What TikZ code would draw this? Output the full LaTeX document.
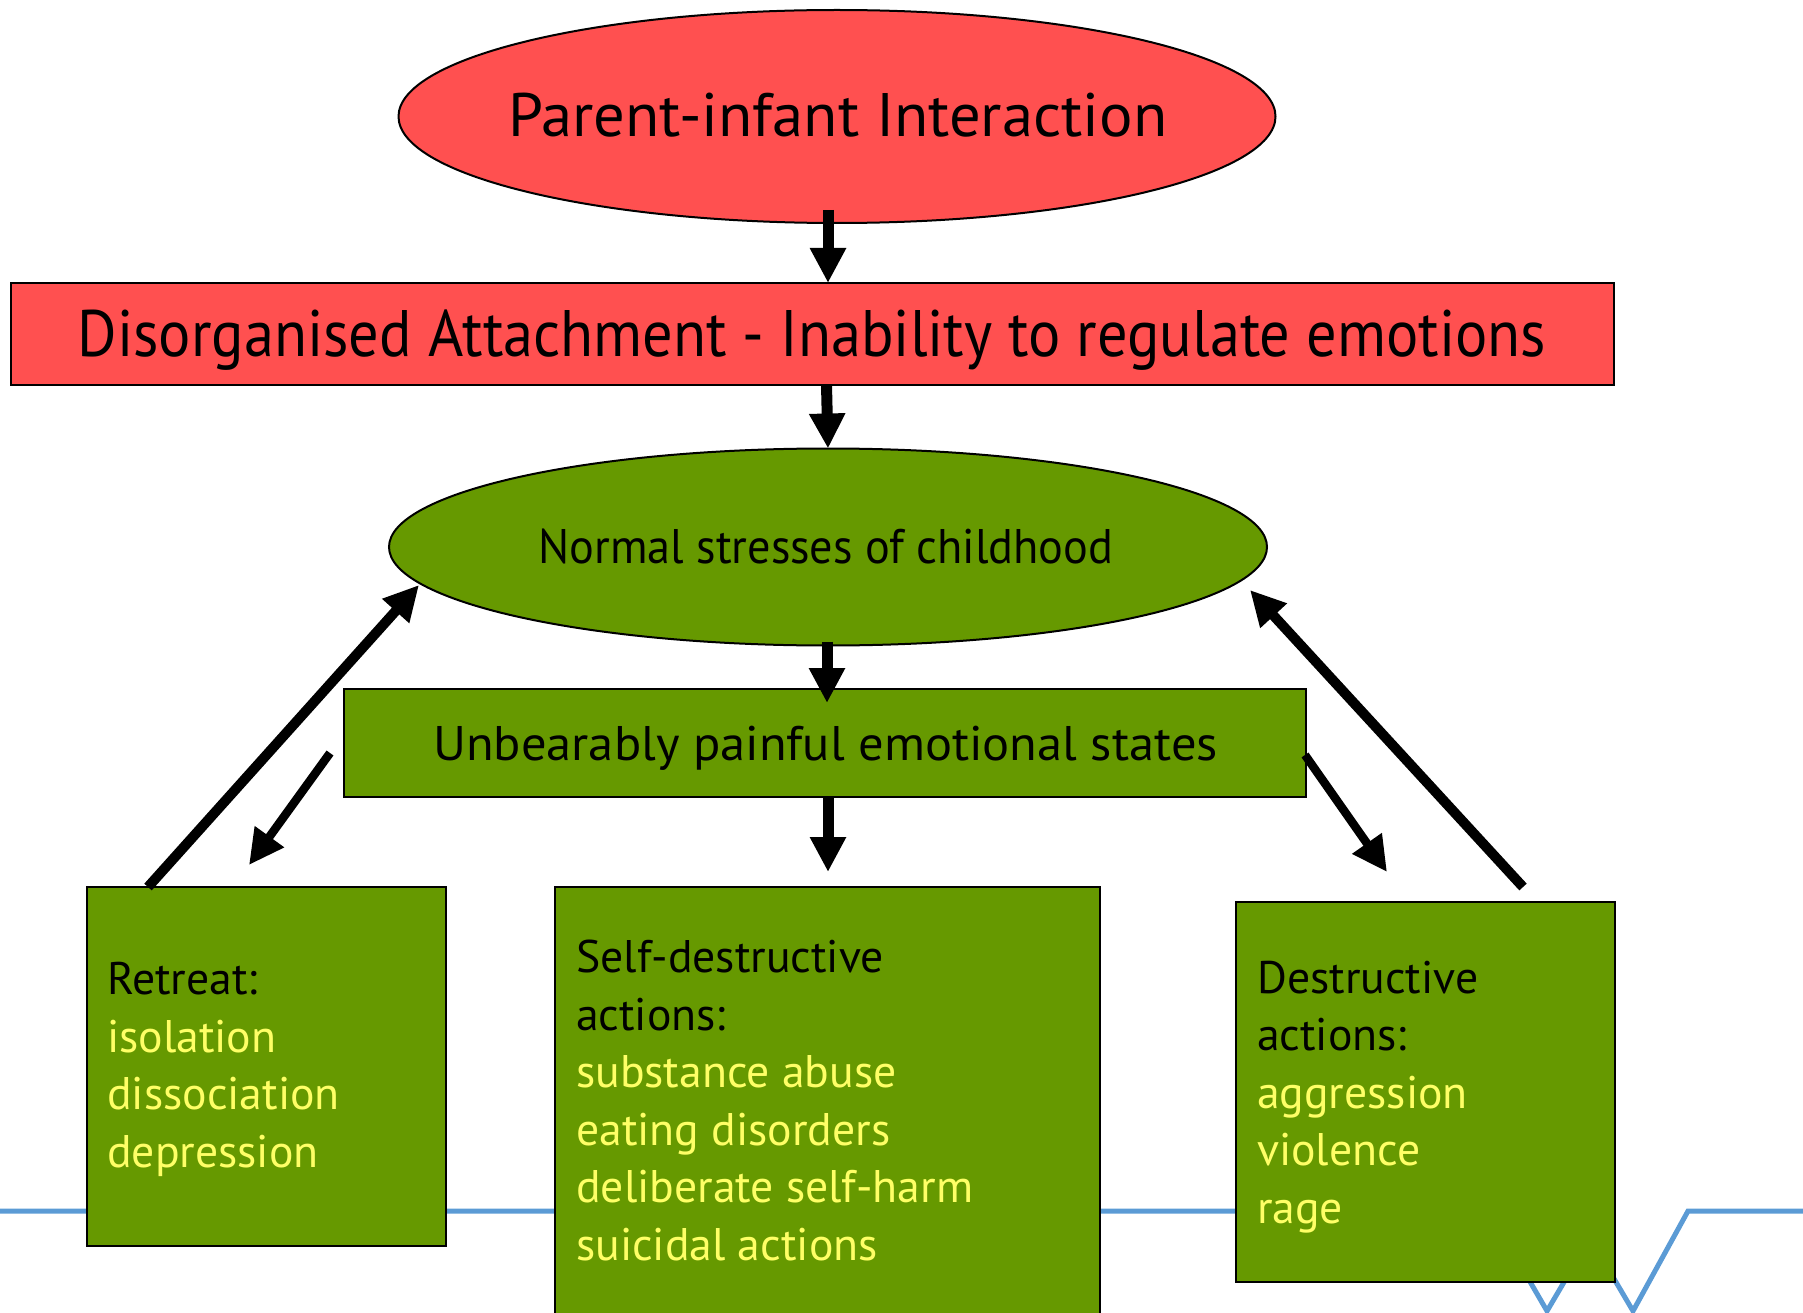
\documentclass[tikz,border=0pt]{standalone}
\usepackage{fontspec}
\setmainfont{PT Sans}
\usetikzlibrary{arrows.meta,shapes.geometric,calc}
\definecolor{redfill}{RGB}{255,80,80}
\definecolor{greenfill}{RGB}{102,153,0}
\definecolor{yell}{RGB}{255,255,102}
\definecolor{blueline}{RGB}{91,155,213}
\begin{document}
\begin{tikzpicture}[x=1pt,y=-1pt,
  shapeline/.style={draw=black,line width=2pt,inner sep=0pt,outer sep=0pt},
  oval/.style={shapeline,ellipse},
  bar/.style={shapeline,rectangle},
  pbox/.style={shapeline,rectangle,fill=greenfill,anchor=north west},
  vtip/.style={-{Triangle[length=35pt,width=34pt]}},
  varr/.style={vtip,line width=11pt},
  larr/.style={vtip,line width=10pt},
  sarr/.style={vtip,line width=8.5pt},
  boxtext/.style={anchor=base west,align=left,inner sep=0pt,font=\fontsize{45.7}{57.5}\selectfont},
  label/.style={inner sep=0pt,anchor=base}]
\useasboundingbox (0,0) rectangle (1803,1313);
% background line
\draw[blueline,line width=5pt,line join=miter]
  (0,1211) -- (1489,1211) -- (1547,1311) -- (1590,1238) -- (1633,1311) -- (1688,1211) -- (1803,1211);
% shapes
\node[oval,fill=redfill,minimum width=877pt,minimum height=213pt] (pii) at (837,116.5) {};
\node[label,font=\fontsize{61.4}{70}\selectfont] (piit) at (838,137) {\scalebox{1.02}[1]{Parent-infant Interaction}};
\node[bar,fill=redfill,minimum width=1603pt,minimum height=102pt] (da) at (812.5,334) {};
\node[label,font=\fontsize{65.7}{75}\selectfont] (dat) at (812,356) {\scalebox{0.919}[1]{Disorganised Attachment - Inability to regulate emotions}};
\node[oval,fill=greenfill,minimum width=878pt,minimum height=197pt] (ns) at (828,547) {};
\node[label,font=\fontsize{48.6}{56}\selectfont] (nst) at (826,563) {\scalebox{0.952}[1]{Normal stresses of childhood}};
\node[bar,fill=greenfill,minimum width=962pt,minimum height=108pt] (ur) at (825,743) {};
\node[label,font=\fontsize{48.6}{56}\selectfont] (urt) at (825.5,760) {\scalebox{1.04}[1]{Unbearably painful emotional states}};
\node[pbox,minimum width=359pt,minimum height=359pt] (lb) at (87,887) {};
\node[pbox,minimum width=545pt,minimum height=440pt] (mb) at (555,887) {};
\node[pbox,minimum width=379pt,minimum height=380pt] (rb) at (1236,902) {};
% box texts (anchor = baseline of the last line)
\node[boxtext] (lt) at (107,1167) {Retreat:\\ \textcolor{yell}{isolation}\\ \textcolor{yell}{dissociation}\\ \textcolor{yell}{depression}};
\node[boxtext] (mt) at (576,1260) {Self-destructive\\ actions:\\ \textcolor{yell}{substance abuse}\\ \textcolor{yell}{eating disorders}\\ \textcolor{yell}{deliberate self-harm}\\ \textcolor{yell}{suicidal actions}};
\node[boxtext] (rt) at (1257,1223) {Destructive\\ actions:\\ \textcolor{yell}{aggression}\\ \textcolor{yell}{violence}\\ \textcolor{yell}{rage}};
% vertical arrows
\draw[varr] ([xshift=-9pt,yshift=13pt]pii.south) -- ([xshift=15.5pt]da.north);
\draw[varr] ([xshift=14pt]da.south) -- (ns.north);
\draw[varr] ([xshift=-1pt,yshift=4pt]ns.south) -- ([xshift=2pt,yshift=-14pt]ur.north);
\draw[varr] ([xshift=3pt]ur.south) -- ($(ur.south)+(3,75)$);
% diagonal arrows
\draw[larr] ($(lb.north west)+(61,0)$) -- ($(ns.center)+(-409,38)$);
\draw[sarr] ($(ur.west)+(-14,10)$) -- ($(lb.north west)+(162,-22)$);
\draw[sarr] ($(ur.east)+(-1,12)$) -- ($(rb.north west)+(151,-30)$);
\draw[larr] ($(rb.north west)+(287,-15)$) -- ($(ns.center)+(422,43)$);
\end{tikzpicture}
\end{document}
